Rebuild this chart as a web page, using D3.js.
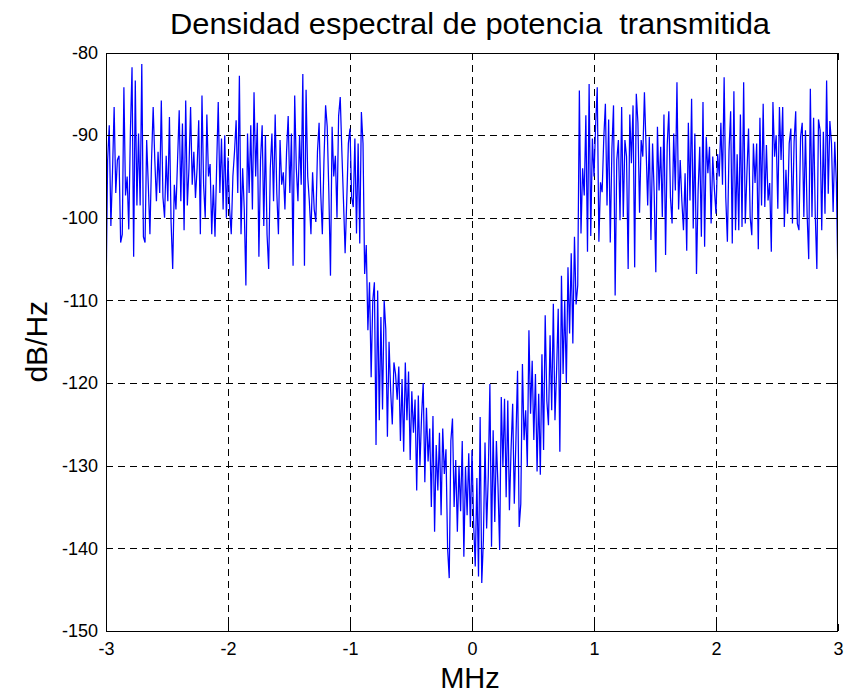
<!DOCTYPE html>
<html>
<head>
<meta charset="utf-8">
<script src="https://cdn.jsdelivr.net/npm/d3@7"></script>
<style>
  html, body { margin: 0; padding: 0; background: #fff; }
  svg { display: block; font-family: "Liberation Sans", Arial, sans-serif; }
</style>
</head>
<body>
<svg id="chart" width="845" height="694"></svg>
<script>
// Transmitted power spectral density, dB/Hz, on a uniform frequency grid from -3 to 3 MHz
const freqStart = -3;
const freqEnd = 3;
const psdDb = [
  -110, -93, -88.8, -101, -94.5, -86.6, -97, -93, -92.5, -103,
  -102, -84.2, -97.3, -95, -101.4, -89.5, -81.8, -104.7, -83.4, -98.5,
  -89.8, -98.5, -81.4, -102.3, -103, -90.6, -96, -102, -93, -86.6,
  -93, -98, -92, -97, -85.8, -97.5, -100, -92.5, -98, -87.8,
  -100.5, -106.2, -96, -99, -93, -87, -98, -88.6, -101.5, -85.8,
  -98.5, -94, -86.6, -96, -92, -97.6, -94, -88.2, -102, -85.2,
  -96, -100, -87.5, -95, -93.5, -102, -96, -102.3, -94, -86,
  -97, -90.4, -99, -90, -100, -92.7, -99,
  -102, -95, -92, -88.2, -97, -82.8, -102, -94, -99, -108.2,
  -89.8, -97, -88.8, -99, -84.8, -95, -88.5, -104.7, -93, -88.8,
  -101, -90, -102, -106.2, -94, -89.8, -98, -87.5, -97, -102,
  -90.6, -96, -94.5, -99, -92, -87.7, -97, -89.8, -105.8, -85.2,
  -94, -98, -90, -96, -82.6, -105.8, -84.5, -95, -98, -102,
  -94.5, -99, -100.5, -92, -88.5, -97, -102, -93, -86.4, -89,
  -97, -107, -89, -95, -92.5, -100, -87.7, -85.4, -92, -98,
  -104.3, -97.9, -91, -89.2,
  -97.5, -98.7, -90.4, -101.9, -91, -103.1, -87.2, -91, -106.8, -103.3,
  -113.6, -107.8, -119.3, -110, -107.8, -127.5, -108.8, -124.5, -112, -123.2,
  -110, -113.5, -126.5, -115, -121, -125, -117.5, -118.9, -122, -118,
  -127, -119.5, -128.3, -117.5, -124.5, -118.6, -129.3, -121, -126, -122,
  -133, -121.5, -130, -124, -120, -132, -123, -129.5, -125.5, -135,
  -124, -138, -127.5, -133, -126, -136, -125.5, -131, -128, -140,
  -143.6, -127, -124.3, -135, -129.3, -138, -130, -135.5, -127, -141,
  -130.1, -136, -128.5, -137.4, -128.1, -137, -142.2,
  -131.5, -143.4, -124.1, -144.2, -139, -127.2, -137.6, -131.3, -120.1, -139.8,
  -125.7, -136.8, -127, -132.6, -140.2, -121.7, -130.1, -121.9, -133.8, -122.1,
  -135.4, -128.1, -122.5, -134.6, -126.9, -118.5, -137.4, -134.6, -117.7, -126.9,
  -123.3, -130.1, -113.6, -123.7, -117.3, -126.9, -118.9, -130.7, -121.3, -131.1,
  -116.5, -128.1, -111.8, -122.1, -125.1, -114.2, -123.3, -110.4, -124.5, -118.5,
  -111, -128.3, -107, -118.9, -110, -120, -106, -114, -104.3, -115.2,
  -102.3, -110.5, -108.2, -84.6, -101.9, -94, -97.3, -87.6, -104.1, -83.8,
  -102.2, -90.4, -95, -88.8,
  -84.2, -102.9, -95.7, -96.9, -90.4, -86.2, -98.5, -88.1, -103, -91.7,
  -86.4, -109.4, -93, -90.6, -100.3, -86.6, -99.9, -90.6, -92.6, -106.2,
  -87.5, -93.4, -86.4, -106, -85, -88.5, -99.4, -90.6, -92.6, -84.8,
  -91.4, -98.5, -90.2, -102.7, -91, -97, -106.6, -89, -96.7, -91.4,
  -99.9, -87.5, -104.5, -91.2, -87.1, -97.5, -100.7, -89.8, -96.7, -83.6,
  -99, -93, -97.9, -101.5, -94.6, -104, -88.5, -97.9, -85.6, -101.3,
  -89.8, -106.8, -96.7, -91.4, -102.3, -86, -103.5, -90.2, -94.6, -91.4,
  -100.7, -92.6, -96.5, -99.5,
  -92.3, -95, -88.5, -96, -83, -97.5, -102.9, -91.9, -87.1, -103.1,
  -84.7, -101.5, -92.3, -101.5, -87.5, -101.1, -83.6, -100.7, -94.6, -89.2,
  -99.9, -102.1, -91, -95.8, -91, -103.8, -87.9, -98.5, -86.2, -98.7,
  -91.2, -97.9, -95.8, -104.1, -86, -92.6, -90, -98.9, -86.6, -93,
  -86.6, -101.1, -94.2, -99.5, -91, -89.2, -100.7, -90.8, -87.1, -100.7,
  -101.5, -90.2, -88.5, -99.9, -89.4, -99.5, -105, -84.4, -99.9, -87.9,
  -99.5, -106.2, -88.1, -89.4, -101.5, -89.6, -99.5, -83.4, -97.1, -88.3,
  -91, -99.3, -90.8, -95.8, -108
];

const xTicks = [-3, -2, -1, 0, 1, 2, 3];
const yTicks = [-150, -140, -130, -120, -110, -100, -90, -80];
const xDomain = [-3, 3];
const yDomain = [-150, -80];

const titleText = "Densidad espectral de potencia  transmitida";
const xLabelText = "MHz";
const yLabelText = "dB/Hz";

// Frequency of each bin
const step = (freqEnd - freqStart) / (psdDb.length - 1);
const points = psdDb.map((v, i) => ({ f: freqStart + i * step, v }));

const box = { left: 106, top: 52.5, right: 838, bottom: 631 };
const svg = d3.select("#chart");

const x = d3.scaleLinear().domain(xDomain).range([box.left, box.right]);
const y = d3.scaleLinear().domain(yDomain).range([box.bottom, box.top]);

const plotW = box.right - box.left;
const plotH = box.bottom - box.top;

// Dashed grid
const grid = svg.append("g")
  .attr("stroke", "#000")
  .attr("stroke-width", 1)
  .attr("stroke-dasharray", "7,5")
  .attr("shape-rendering", "crispEdges");

grid.selectAll("line.gx")
  .data(xTicks.filter(t => t !== xDomain[0] && t !== xDomain[1]))
  .join("line")
  .attr("class", "gx")
  .attr("x1", d => Math.round(x(d)) + 0.5)
  .attr("x2", d => Math.round(x(d)) + 0.5)
  .attr("y1", box.top)
  .attr("y2", box.bottom);

grid.selectAll("line.gy")
  .data(yTicks.filter(t => t !== yDomain[0] && t !== yDomain[1]))
  .join("line")
  .attr("class", "gy")
  .attr("x1", box.left)
  .attr("x2", box.right)
  .attr("y1", d => Math.round(y(d)) + 0.5)
  .attr("y2", d => Math.round(y(d)) + 0.5);

// Spectrum trace
svg.append("clipPath").attr("id", "plot-clip")
  .append("rect")
  .attr("x", box.left).attr("y", box.top)
  .attr("width", plotW).attr("height", plotH);

const line = d3.line()
  .x(d => x(d.f))
  .y(d => y(d.v));

svg.append("path")
  .datum(points)
  .attr("clip-path", "url(#plot-clip)")
  .attr("fill", "none")
  .attr("stroke", "#0000ff")
  .attr("stroke-width", 1.25)
  .attr("stroke-linejoin", "miter")
  .attr("d", line);

// Axes with inward ticks on all four sides
const tickLen = 7;
const fmt = d => String(d);

const styleAxis = g => {
  g.selectAll(".domain").remove();
  g.selectAll(".tick line").attr("stroke", "#000").attr("shape-rendering", "crispEdges");
  g.selectAll(".tick text")
    .attr("fill", "#000")
    .style("font-size", "18px")
    .style("font-family", "'Liberation Sans', Arial, sans-serif");
};

svg.append("g")
  .attr("transform", `translate(0,${box.bottom})`)
  .call(d3.axisBottom(x).tickValues(xTicks).tickFormat(fmt)
    .tickSizeInner(-tickLen).tickSizeOuter(0).tickPadding(11))
  .call(styleAxis);

svg.append("g")
  .attr("transform", `translate(0,${box.top})`)
  .call(d3.axisTop(x).tickValues(xTicks).tickFormat("")
    .tickSizeInner(-tickLen).tickSizeOuter(0))
  .call(styleAxis);

svg.append("g")
  .attr("transform", `translate(${box.left},0)`)
  .call(d3.axisLeft(y).tickValues(yTicks).tickFormat(fmt)
    .tickSizeInner(-tickLen).tickSizeOuter(0).tickPadding(8))
  .call(styleAxis);

svg.append("g")
  .attr("transform", `translate(${box.right},0)`)
  .call(d3.axisRight(y).tickValues(yTicks).tickFormat("")
    .tickSizeInner(-tickLen).tickSizeOuter(0))
  .call(styleAxis);

// Axes box
svg.append("rect")
  .attr("x", box.left + 0.5)
  .attr("y", Math.round(box.top) + 0.5)
  .attr("width", Math.round(plotW) - 1)
  .attr("height", Math.round(plotH) - 1)
  .attr("fill", "none")
  .attr("stroke", "#000")
  .attr("stroke-width", 1)
  .attr("shape-rendering", "crispEdges");

// Title and axis labels
svg.append("text")
  .attr("x", 470)
  .attr("y", 34)
  .attr("text-anchor", "middle")
  .attr("textLength", 600)
  .attr("lengthAdjust", "spacingAndGlyphs")
  .style("font-size", "30px")
  .style("white-space", "pre")
  .attr("fill", "#000")
  .text(titleText);

svg.append("text")
  .attr("x", 470)
  .attr("y", 688)
  .attr("text-anchor", "middle")
  .style("font-size", "29px")
  .attr("fill", "#000")
  .text(xLabelText);

svg.append("text")
  .attr("transform", `translate(47,${(box.top + box.bottom) / 2}) rotate(-90)`)
  .attr("text-anchor", "middle")
  .style("font-size", "30px")
  .attr("fill", "#000")
  .text(yLabelText);
</script>
</body>
</html>
